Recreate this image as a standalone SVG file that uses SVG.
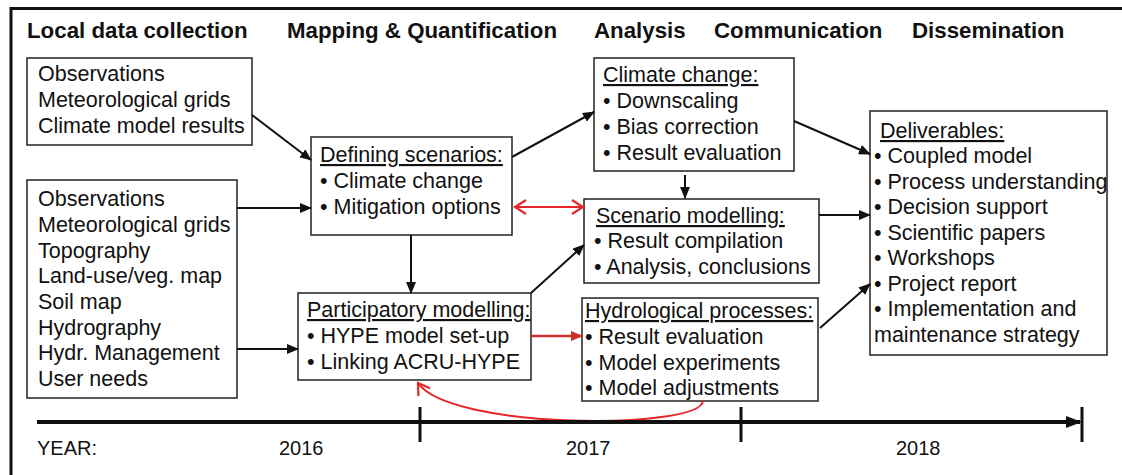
<svg xmlns="http://www.w3.org/2000/svg" width="1122" height="475" viewBox="0 0 1122 475">
<style>
text{font-family:"Liberation Sans",Arial,sans-serif;font-size:21.5px;fill:#111}
.h{font-weight:bold;font-size:22.3px}
.u{text-decoration:underline}
.box{fill:#fff;stroke:#222;stroke-width:1.5}
.c{fill:none;stroke:#111;stroke-width:2}
.r{fill:none;stroke:#e8262a;stroke-width:2}
.rd{fill:none;stroke:#c8302c;stroke-width:2.5}
.y{font-size:20px}
</style>
<defs>
<marker id="ab" markerUnits="userSpaceOnUse" markerWidth="12" markerHeight="10" refX="11" refY="5" orient="auto"><path d="M0,0 L12,5 L0,10 Z" fill="#111"/></marker>
<marker id="ard" markerUnits="userSpaceOnUse" markerWidth="12" markerHeight="10" refX="11" refY="5" orient="auto"><path d="M0,0 L12,5 L0,10 Z" fill="#c8302c"/></marker>
<marker id="arv" markerUnits="userSpaceOnUse" markerWidth="14" markerHeight="16" refX="12" refY="8" orient="auto-start-reverse"><path d="M1,1 L12,8 L1,15" fill="none" stroke="#e8262a" stroke-width="2.2"/></marker>
<marker id="at" markerUnits="userSpaceOnUse" markerWidth="16" markerHeight="14" refX="14" refY="7" orient="auto"><path d="M0,1 L16,7 L0,13 Z" fill="#111"/></marker>
</defs>
<rect width="1122" height="475" fill="#fff"/>
<path d="M11,475 V8.5 H1122" fill="none" stroke="#111" stroke-width="3"/>
<g id="headers">
<text class="h" x="27" y="38">Local data collection</text>
<text class="h" x="287" y="38">Mapping &amp; Quantification</text>
<text class="h" x="594" y="38">Analysis</text>
<text class="h" x="714" y="38">Communication</text>
<text class="h" x="912" y="38">Dissemination</text>
</g>
<g id="n_data1">
<rect class="box" x="27" y="58" width="225" height="87"/>
<text x="38" y="81">Observations</text>
<text x="38" y="107">Meteorological grids</text>
<text x="38" y="133">Climate model results</text>
</g>
<g id="n_data2">
<rect class="box" x="27" y="180" width="210" height="218"/>
<text x="38" y="206">Observations</text>
<text x="38" y="232">Meteorological grids</text>
<text x="38" y="258">Topography</text>
<text x="38" y="283">Land-use/veg. map</text>
<text x="38" y="309">Soil map</text>
<text x="38" y="335">Hydrography</text>
<text x="38" y="360">Hydr. Management</text>
<text x="38" y="386">User needs</text>
</g>
<g id="n_defining">
<rect class="box" x="311" y="137" width="201" height="98"/>
<text class="u" x="320" y="162">Defining scenarios:</text>
<text x="320" y="188">• Climate change</text>
<text x="320" y="214">• Mitigation options</text>
</g>
<g id="n_particip">
<rect class="box" x="298" y="293" width="233" height="87"/>
<text class="u" x="307" y="317">Participatory modelling:</text>
<text x="307" y="343">• HYPE model set-up</text>
<text x="307" y="369">• Linking ACRU-HYPE</text>
</g>
<g id="n_climate">
<rect class="box" x="594" y="58" width="200" height="113"/>
<text class="u" x="603" y="82">Climate change:</text>
<text x="603" y="108">• Downscaling</text>
<text x="603" y="134">• Bias correction</text>
<text x="603" y="160">• Result evaluation</text>
</g>
<g id="n_scenario">
<rect class="box" x="584" y="199" width="235" height="84"/>
<text class="u" x="596" y="223">Scenario modelling:</text>
<text x="594" y="248">• Result compilation</text>
<text x="594" y="274">• Analysis, conclusions</text>
</g>
<g id="n_hydro">
<rect class="box" x="582" y="298" width="236" height="103"/>
<text class="u" x="585" y="318">Hydrological processes:</text>
<text x="585" y="344">• Result evaluation</text>
<text x="585" y="370">• Model experiments</text>
<text x="585" y="395">• Model adjustments</text>
</g>
<g id="n_deliv">
<rect class="box" x="870" y="111" width="237" height="244"/>
<text class="u" x="880" y="138">Deliverables:</text>
<text x="874" y="163">• Coupled model</text>
<text x="874" y="189">• Process understanding</text>
<text x="874" y="214">• Decision support</text>
<text x="874" y="240">• Scientific papers</text>
<text x="874" y="265">• Workshops</text>
<text x="874" y="291">• Project report</text>
<text x="874" y="316">• Implementation and</text>
<text x="874" y="342">maintenance strategy</text>
</g>
<g id="connectors">
<path class="c" d="M252,115 L311,160" marker-end="url(#ab)"/>
<path class="c" d="M237,208 L311,208" marker-end="url(#ab)"/>
<path class="c" d="M411,235 L411,293" marker-end="url(#ab)"/>
<path class="c" d="M237,349 L298,349" marker-end="url(#ab)"/>
<path class="c" d="M512,157 L594,112" marker-end="url(#ab)"/>
<path class="c" d="M685,175 L685,198" marker-end="url(#ab)"/>
<path class="c" d="M531,293 L584,245" marker-end="url(#ab)"/>
<path class="c" d="M794,121 L870,154" marker-end="url(#ab)"/>
<path class="c" d="M819,215 L870,215" marker-end="url(#ab)"/>
<path class="c" d="M820,328 L870,284" marker-end="url(#ab)"/>
<path class="r" d="M515,207 L583,207" marker-start="url(#arv)" marker-end="url(#arv)"/>
<path class="rd" d="M531,336 L582,336" marker-end="url(#ard)"/>
<path class="r" d="M703,401 C700,430 450,430 418,383" marker-end="url(#arv)"/>
</g>
<g id="timeline">
<path d="M37,422 L1080,422" stroke="#111" stroke-width="4" fill="none" marker-end="url(#at)"/>
<path d="M420,407 V442 M741,407 V442 M1082,407 V442" stroke="#111" stroke-width="3" fill="none"/>
<text class="y" x="37" y="455">YEAR:</text>
<text class="y" x="279" y="455">2016</text>
<text class="y" x="566" y="455">2017</text>
<text class="y" x="896" y="455">2018</text>
</g>
</svg>
